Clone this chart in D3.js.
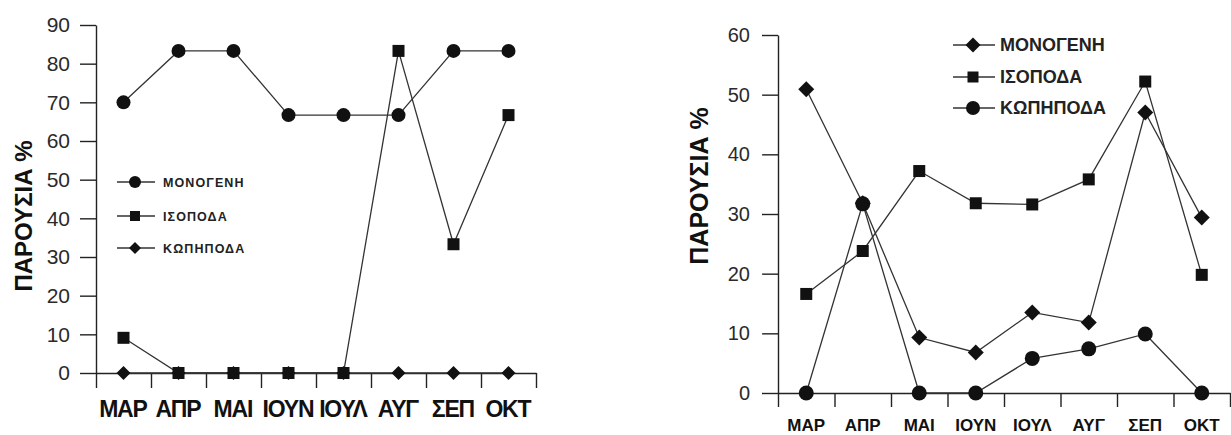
<!DOCTYPE html>
<html>
<head>
<meta charset="utf-8">
<script src="https://cdn.jsdelivr.net/npm/d3@7"></script>
<style>
  html, body { margin: 0; padding: 0; background: #fff; }
  svg { display: block; font-family: Arial, "Liberation Sans", Helvetica, sans-serif; }
</style>
</head>
<body>
<svg id="chart" width="1231" height="435"></svg>
<script>
// Months (March–October)
const months = ["ΜΑΡ", "ΑΠΡ", "ΜΑΙ", "ΙΟΥΝ", "ΙΟΥΛ", "ΑΥΓ", "ΣΕΠ", "ΟΚΤ"];

// Left panel: presence %
const leftMonogeni  = [70, 83.3, 83.3, 66.7, 66.7, 66.7, 83.3, 83.3];
const leftIsopoda   = [9.1, 0, 0, 0, 0, 83.3, 33.3, 66.7];
const leftKopipoda  = [0, 0, 0, 0, 0, 0, 0, 0];
const leftTicks     = [0, 10, 20, 30, 40, 50, 60, 70, 80, 90];

// Right panel: presence %
const rightMonogeni = [50.9, 31.8, 9.3, 6.8, 13.5, 11.8, 47.0, 29.4];
const rightIsopoda  = [16.6, 23.8, 37.2, 31.8, 31.6, 35.8, 52.2, 19.8];
const rightKopipoda = [0, 31.7, 0, 0, 5.8, 7.4, 9.9, 0];
const rightTicks    = [0, 10, 20, 30, 40, 50, 60];

const yTitle = "ΠΑΡΟΥΣΙΑ %";
const names = { mono: "ΜΟΝΟΓΕΝΗ", iso: "ΙΣΟΠΟΔΑ", kop: "ΚΩΠΗΠΟΔΑ" };

const ink = "#222";
const svg = d3.select("#chart");

function marker(g, shape, size) {
  if (shape === "circle") {
    g.append("circle").attr("r", size).attr("fill", "#111");
  } else if (shape === "square") {
    g.append("rect").attr("x", -size / 2).attr("y", -size / 2)
      .attr("width", size).attr("height", size).attr("fill", "#111");
  } else {
    const h = size / 2;
    g.append("path").attr("d", `M0,${-h}L${h},0L0,${h}L${-h},0Z`).attr("fill", "#111");
  }
}

function panel(cfg) {
  const g = svg.append("g");
  const x = d3.scaleBand().domain(months).range([cfg.x0, cfg.x1]).padding(0);
  const y = d3.scaleLinear().domain([0, cfg.yMax]).range([cfg.y0, cfg.y1]);
  const cx = m => x(m) + x.bandwidth() / 2;

  // y axis
  const ya = g.append("g").attr("transform", `translate(${cfg.x0},0)`)
    .call(d3.axisLeft(y).tickValues(cfg.ticks).tickSize(16).tickPadding(cfg.tickPad).tickSizeOuter(0));
  ya.select(".domain").attr("stroke", ink).attr("stroke-width", 1.4);
  ya.selectAll(".tick line").attr("stroke", ink).attr("stroke-width", 1.4);
  ya.selectAll(".tick text").attr("fill", "#2a2a2a").style("font-size", cfg.yFont + "px")
    .style("font-family", "Arial, 'Liberation Sans', sans-serif");

  // x axis: boundary ticks between months
  const xb = d3.scaleLinear().domain([0, months.length]).range([cfg.x0, cfg.x1]);
  const xa = g.append("g").attr("transform", `translate(0,${cfg.y0})`)
    .call(d3.axisBottom(xb).tickValues(d3.range(months.length + 1)).tickSize(cfg.xTick).tickFormat("").tickSizeOuter(0));
  xa.select(".domain").attr("stroke", ink).attr("stroke-width", 1.4);
  xa.selectAll(".tick line").attr("stroke", ink).attr("stroke-width", 1.4);

  // month labels
  g.selectAll("text.month").data(months).enter().append("text")
    .attr("class", "month")
    .attr("x", d => cx(d) + cfg.xSpacing / 2).attr("y", cfg.labelY)
    .attr("text-anchor", "middle")
    .attr("font-weight", "bold").attr("font-size", cfg.xFont)
    .attr("letter-spacing", cfg.xSpacing)
    .attr("fill", "#111").text(d => d);

  // y title
  g.append("text")
    .attr("transform", `translate(${cfg.titleX},${cfg.titleY}) rotate(-90)`)
    .attr("text-anchor", "middle")
    .attr("font-weight", "bold").attr("font-size", cfg.titleFont)
    .attr("fill", "#111").text(yTitle);

  // series
  const line = d3.line().x((d, i) => cx(months[i])).y(d => y(d));
  cfg.series.forEach(s => {
    g.append("path").datum(s.values).attr("d", line)
      .attr("fill", "none").attr("stroke", "#333").attr("stroke-width", 1.3);
  });
  cfg.series.forEach(s => {
    s.values.forEach((v, i) => {
      const m = g.append("g").attr("transform", `translate(${cx(months[i])},${y(v)})`);
      marker(m, s.shape, cfg.size[s.shape]);
    });
  });

  // legend
  const lg = g.append("g");
  cfg.legendOrder.forEach((s, i) => {
    const row = lg.append("g").attr("transform", `translate(0,${cfg.legY[i]})`);
    row.append("line").attr("x1", cfg.legX0).attr("x2", cfg.legX1)
      .attr("stroke", "#333").attr("stroke-width", 1.3);
    const mk = row.append("g").attr("transform", `translate(${cfg.legM},0)`);
    marker(mk, s.shape, cfg.legSize[s.shape]);
    row.append("text").attr("x", cfg.legT).attr("y", 0).attr("dy", "0.36em")
      .attr("font-weight", "bold").attr("font-size", cfg.legFont)
      .attr("letter-spacing", cfg.legSpacing)
      .attr("fill", "#222").text(s.name);
  });
}

// Left panel
const leftSeries = [
  { name: names.kop,  shape: "diamond", values: leftKopipoda },
  { name: names.iso,  shape: "square",  values: leftIsopoda },
  { name: names.mono, shape: "circle",  values: leftMonogeni }
];
panel({
  x0: 96, x1: 536, y0: 373, y1: 25, yMax: 90, ticks: leftTicks,
  tickPad: 10, yFont: 21, xTick: 15, labelY: 417, xFont: 23, xSpacing: -1.2,
  titleX: 32, titleY: 216, titleFont: 24,
  size: { circle: 7, square: 12, diamond: 14 },
  series: leftSeries,
  legendOrder: [leftSeries[2], leftSeries[1], leftSeries[0]],
  legY: [182, 216, 248], legX0: 117, legX1: 155, legM: 135, legT: 163,
  legSize: { circle: 6, square: 10, diamond: 12 },
  legFont: 12.5, legSpacing: 1.1
});

// Right panel
const rightSeries = [
  { name: names.mono, shape: "diamond", values: rightMonogeni },
  { name: names.iso,  shape: "square",  values: rightIsopoda },
  { name: names.kop,  shape: "circle",  values: rightKopipoda }
];
panel({
  x0: 778, x1: 1230, y0: 393, y1: 35, yMax: 60, ticks: rightTicks,
  tickPad: 12, yFont: 20, xTick: 14, labelY: 431, xFont: 17, xSpacing: 0,
  titleX: 708, titleY: 186, titleFont: 25,
  size: { circle: 7.5, square: 12, diamond: 16 },
  series: rightSeries,
  legendOrder: rightSeries,
  legY: [45, 77, 108], legX0: 953, legX1: 995, legM: 973, legT: 1000,
  legSize: { circle: 7, square: 11, diamond: 15 },
  legFont: 18, legSpacing: 0
});
</script>
</body>
</html>
